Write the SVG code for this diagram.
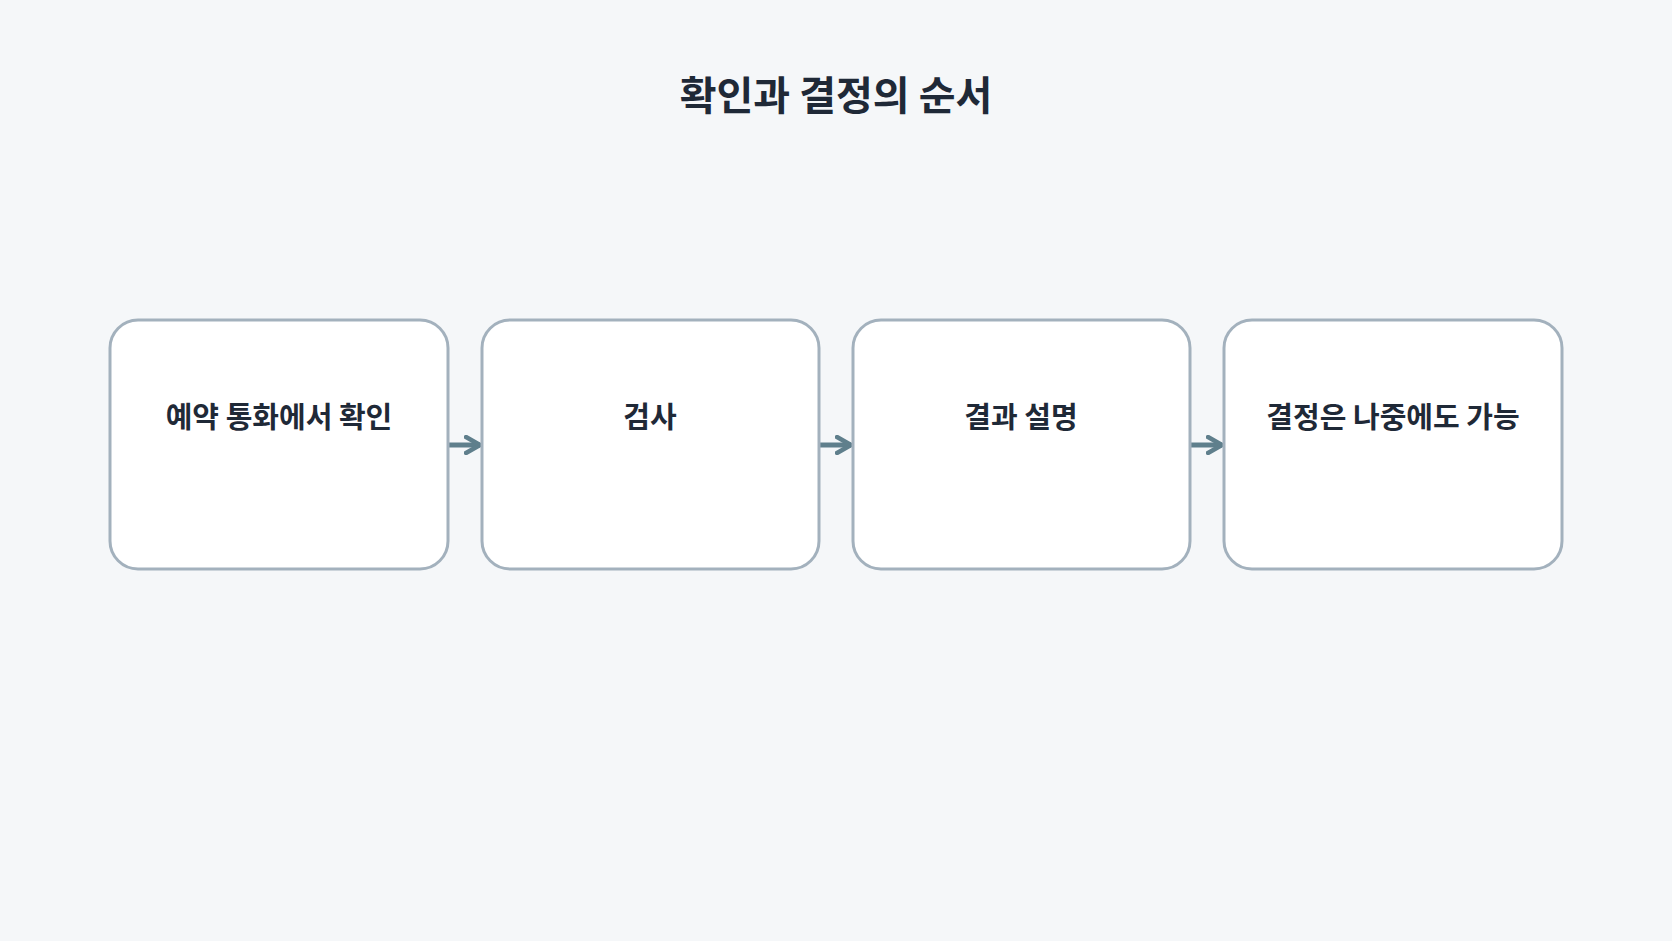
<svg xmlns="http://www.w3.org/2000/svg" width="1672" height="941" viewBox="0 0 1672 941">
<style>
.box{fill:#fff;stroke:#a3b1bd;stroke-width:3}
.lbl{font-family:"Noto Sans CJK KR","Noto Sans",sans-serif;font-weight:700;font-size:29px;fill:#1f2937;text-anchor:middle}
.title{font-family:"Noto Sans CJK KR","Noto Sans",sans-serif;font-weight:700;font-size:40px;fill:#1f2937;text-anchor:middle}
.con{stroke:#5f7f8c;stroke-width:5;fill:none}
</style>
<defs><marker id="ah" viewBox="0 0 10 10" refX="8" refY="5" markerWidth="4" markerHeight="4" orient="auto" markerUnits="strokeWidth"><path d="M1,1 L8,5 L1,9" fill="none" stroke="#5f7f8c" stroke-width="2.2" stroke-linecap="round" stroke-linejoin="round"/></marker></defs>
<rect width="1672" height="941" fill="#f5f7f9"/>
<text class="title" x="836" y="110">확인과 결정의 순서</text>
<g id="connectors">
<line class="con" x1="448" y1="445" x2="480" y2="445" marker-end="url(#ah)"/>
<line class="con" x1="819" y1="445" x2="851" y2="445" marker-end="url(#ah)"/>
<line class="con" x1="1190" y1="445" x2="1222" y2="445" marker-end="url(#ah)"/>
</g>
<g id="n1"><rect class="box" x="110" y="320" width="338" height="249" rx="28"/><text class="lbl" x="279" y="428">예약 통화에서 확인</text></g>
<g id="n2"><rect class="box" x="482" y="320" width="337" height="249" rx="28"/><text class="lbl" x="650" y="428">검사</text></g>
<g id="n3"><rect class="box" x="853" y="320" width="337" height="249" rx="28"/><text class="lbl" x="1021" y="428">결과 설명</text></g>
<g id="n4"><rect class="box" x="1224" y="320" width="338" height="249" rx="28"/><text class="lbl" x="1393" y="428">결정은 나중에도 가능</text></g>
</svg>
